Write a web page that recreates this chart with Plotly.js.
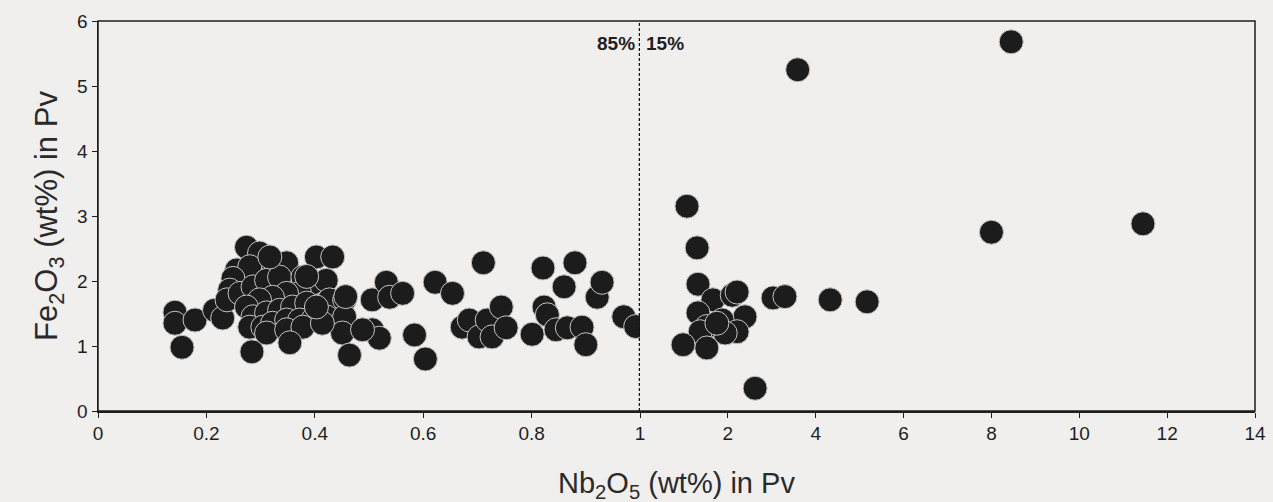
<!DOCTYPE html>
<html>
<head>
<meta charset="utf-8">
<script src="https://cdn.plot.ly/plotly-3.0.1.min.js"></script>
<style>html,body{margin:0;padding:0;background:#f0efed;}#chart{width:1273px;height:502px;}</style>
</head>
<body>
<div id="chart"></div>
<script>
// Left part of the broken axis: Nb2O5 from 0 to 1 wt%
const leftNb = [0.142,0.142,0.179,0.155,0.215,0.230,0.274,0.298,0.322,0.348,0.403,0.433,0.256,0.280,0.249,0.243,0.238,
  0.262,0.286,0.311,0.335,0.378,0.396,0.421,0.372,0.348,0.322,0.298,0.274,0.286,0.311,0.335,0.359,0.385,0.409,0.427,
  0.280,0.304,0.322,0.348,0.372,0.396,0.421,0.311,0.348,0.378,0.284,0.354,0.455,0.455,0.451,0.464,0.506,0.519,0.506,
  0.532,0.538,0.562,0.584,0.385,0.414,0.403,0.317,0.457,0.488,
  0.622,0.654,0.711,0.604,0.672,0.685,0.703,0.718,0.727,0.744,0.753,0.801,0.821,0.823,0.829,0.845,0.860,0.866,0.880,
  0.893,0.900,0.921,0.930,0.970,0.992];
const leftFe = [1.52,1.35,1.40,0.98,1.55,1.43,2.52,2.43,2.28,2.28,2.37,2.37,2.17,2.22,2.04,1.86,1.71,
  1.81,1.91,2.01,2.06,2.06,1.97,2.01,1.81,1.81,1.75,1.71,1.60,1.45,1.51,1.55,1.60,1.66,1.60,1.71,
  1.29,1.29,1.35,1.40,1.40,1.40,1.45,1.20,1.25,1.29,0.91,1.05,1.71,1.45,1.20,0.86,1.25,1.12,1.71,
  1.98,1.75,1.81,1.17,2.07,1.35,1.60,2.37,1.76,1.25,
  1.98,1.81,2.28,0.80,1.29,1.40,1.14,1.40,1.14,1.60,1.28,1.18,2.20,1.60,1.48,1.25,1.91,1.28,2.28,
  1.29,1.02,1.75,1.98,1.45,1.30];
// Right part of the broken axis: scale 0 to 14 (origin labelled 1)
const rightNb = [1.07,1.30,1.32,1.66,2.10,2.21,3.03,3.30,1.32,2.39,1.87,2.21,1.94,1.52,1.37,0.98,1.52,2.62,1.75,
  4.33,5.17,3.59,8.45,8.00,11.45];
const rightFe = [3.15,2.51,1.95,1.71,1.78,1.83,1.74,1.76,1.51,1.45,1.40,1.22,1.20,1.30,1.22,1.02,0.97,0.35,1.35,
  1.71,1.68,5.25,5.68,2.75,2.88];
const leftTicks = [0,0.2,0.4,0.6,0.8,1];
const leftTickText = ['0','0.2','0.4','0.6','0.8','1'];
const rightTicks = [2,4,6,8,10,12,14];
const rightTickText = ['2','4','6','8','10','12','14'];
const yTicks = [0,1,2,3,4,5,6];

const marker = {size: 24, color: '#1c1c1c', line: {color: '#c4c4c4', width: 1}};
const traces = [
  {x: leftNb, y: leftFe, type: 'scatter', mode: 'markers', marker: marker, xaxis: 'x', yaxis: 'y', hoverinfo: 'x+y'},
  {x: rightNb, y: rightFe, type: 'scatter', mode: 'markers', marker: marker, xaxis: 'x2', yaxis: 'y', hoverinfo: 'x+y'}
];
const split = (640 - 98) / (1255 - 98);
const fam = 'Liberation Sans, Arial, sans-serif';
const axFont = {family: fam, size: 19, color: '#1e1e1e'};
const layout = {
  width: 1273, height: 502,
  margin: {l: 98, r: 18, t: 21, b: 91},
  paper_bgcolor: '#f0efed', plot_bgcolor: '#f0efed',
  showlegend: false,
  font: axFont,
  xaxis: {domain: [0, split], range: [0, 1], tickvals: leftTicks, ticktext: leftTickText,
    showgrid: false, zeroline: false, showline: true, linecolor: '#1e1e1e', linewidth: 1.5,
    ticks: 'outside', ticklen: 5, tickcolor: '#1e1e1e', tickfont: axFont, anchor: 'y'},
  xaxis2: {domain: [split, 1], range: [0, 14], tickvals: rightTicks, ticktext: rightTickText,
    showgrid: false, zeroline: false, showline: true, linecolor: '#1e1e1e', linewidth: 1.5,
    ticks: 'outside', ticklen: 5, tickcolor: '#1e1e1e', tickfont: axFont, anchor: 'y'},
  yaxis: {range: [0, 6], tickvals: yTicks, showgrid: false, zeroline: false, showline: true,
    linecolor: '#1e1e1e', linewidth: 1.5, ticks: 'outside', ticklen: 5, tickcolor: '#1e1e1e', tickfont: axFont,
    title: {text: 'Fe<sub>2</sub>O<sub>3</sub> (wt%) in Pv', standoff: 10,
      font: {family: fam, size: 31, color: '#2a2a2a'}}},
  shapes: [
    {type: 'rect', xref: 'paper', yref: 'paper', x0: 0, x1: 1, y0: 0, y1: 1, line: {color: '#1e1e1e', width: 1.5}},
    {type: 'line', xref: 'x', yref: 'y', x0: 1, x1: 1, y0: 0, y1: 6, line: {color: '#111', width: 2.5, dash: '3px,2px'}}
  ],
  annotations: [
    {xref: 'x', yref: 'y', x: 1, y: 5.65, text: '<b>85%</b>', showarrow: false, xanchor: 'right', xshift: -3,
      font: {family: fam, size: 19, color: '#1e1e1e'}},
    {xref: 'x', yref: 'y', x: 1, y: 5.65, text: '<b>15%</b>', showarrow: false, xanchor: 'left', xshift: 4,
      font: {family: fam, size: 19, color: '#1e1e1e'}},
    {xref: 'paper', yref: 'paper', x: 0.5, y: -0.19, yanchor: 'middle', showarrow: false,
      text: 'Nb<sub>2</sub>O<sub>5</sub> (wt%) in Pv',
      font: {family: fam, size: 29, color: '#2a2a2a'}}
  ]
};
Plotly.newPlot('chart', traces, layout, {displayModeBar: false, staticPlot: true});
</script>
</body>
</html>
